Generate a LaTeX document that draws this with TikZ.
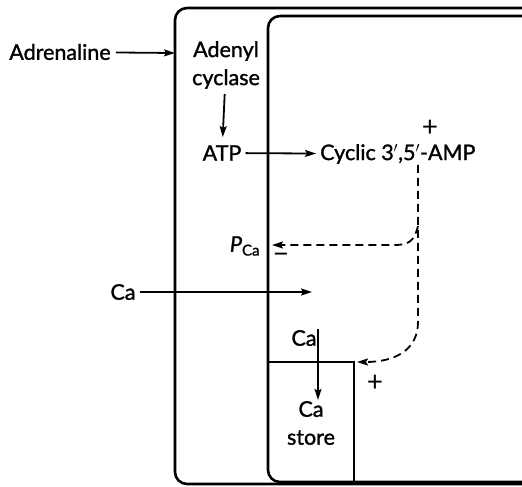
\documentclass[tikz,border=0pt]{standalone}
\usepackage{fontspec}
\setsansfont[FakeBold=1.3]{Lato}
\newfontfamily\signfont{Lato}
\usetikzlibrary{arrows.meta,calc,positioning}
\tikzset{lbl/.style={font=\sffamily\fontsize{21.5}{28}\selectfont, inner sep=1pt, align=center},
  sign/.style={font=\signfont\fontsize{28}{28}\selectfont, inner sep=0pt},
  wall/.style={line width=2.6pt, rounded corners=12pt},
  flow/.style={-{Stealth[length=11pt,width=7pt,inset=2pt]}, line width=1.8pt},
  ctrl/.style={-{Stealth[length=11pt,width=7pt,inset=2pt]}, line width=1.8pt, dash pattern=on 8pt off 5pt}}

\begin{document}
\begin{tikzpicture}[x=1pt, y=-1pt]
  \useasboundingbox (0,0) rectangle (522,487);
  % outer and inner walls, open to the right
  \draw[wall] (540,8) -- (175,8) -- (175,484) -- (540,484);
  \draw[wall] (540,16) -- (268,16) -- (268,482) -- (540,482);
  \draw[wall, rounded corners=0pt] (268,362) -- (354,362) -- (354,482);
  % labels
  \node[lbl] (adr) at (60,52) {Adrenaline};
  \node[lbl] (cyc) at (226,65) {Adenyl\\cyclase};
  \node[lbl] (atp) at (222,153) {ATP};
  \node[lbl, anchor=west] (amp) at (319,154) {Cyclic 3$'$,5$'$-AMP};
  \node[lbl] (pca) at (245,246) {\itshape P\textsubscript{\upshape Ca}};
  \node[lbl] (caout) at (123,292) {Ca};
  \node[lbl] (cain) at (304,338) {Ca};
  \node[lbl] (store) at (311,423) {Ca\\store};
  \node[sign] (plusA) at (430,128) {+};
  \node[sign] (plusB) at (375,383) {+};
  \node[sign] (minus) at (281,258) {−};
  % free ends
  \coordinate (adrIn) at (175,53);
  \coordinate (caIn) at (312,292);
  \coordinate (dropTop) at (318,329);
  \coordinate (split) at (418,226);
  \coordinate (pHit) at (272,245);
  \coordinate (storeHit) at (357,362);
  % solid arrows
  \draw[flow, shorten <=4pt] (adr) -- (adrIn);
  \draw[flow, shorten <=4pt, shorten >=7pt] (cyc) -- (atp);
  \draw[flow, shorten <=3pt, shorten >=3pt] (atp) -- (amp);
  \draw[flow, shorten <=3pt] (caout) -- (caIn);
  \draw[flow] (dropTop) -- (dropTop |- store.north);
  % cyclic AMP control
  \draw[ctrl] (amp.south -| split) -- (418,322) .. controls (418,350) and (395,362) .. (storeHit);
  \draw[ctrl] (split) .. controls (414,242) and (408,245) .. (394,245) -- (pHit);
\end{tikzpicture}
\end{document}
